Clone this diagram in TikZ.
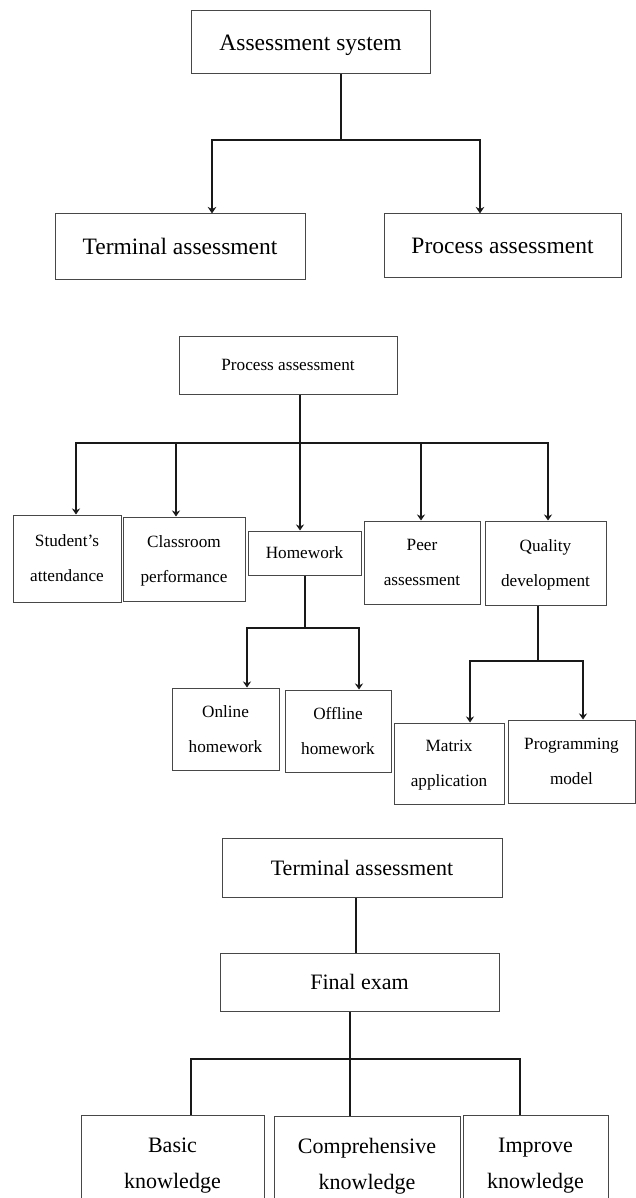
\documentclass[tikz,border=0pt]{standalone}
\usepackage{fontspec}
\setmainfont{Liberation Serif}
\usetikzlibrary{arrows.meta}
\begin{document}
\begin{tikzpicture}[x=1pt,y=-1pt,
  box/.style={draw=black!72, line width=1pt, rectangle, inner sep=0pt, align=center, text depth=0pt},
  fa/.style={font=\fontsize{23.5}{28}\selectfont},
  fb/.style={font=\fontsize{17.2}{35}\selectfont},
  fc/.style={font=\fontsize{22}{36}\selectfont},
  conn/.style={line width=2pt, draw=black!90},
  thickconn/.style={line width=2.5pt, draw=black!90},
  arr/.style={conn, -{Stealth[length=6pt,width=8pt]}},
  thickarr/.style={thickconn, -{Stealth[length=6.5pt,width=8.5pt]}}
]
\useasboundingbox (0,0) rectangle (636,1198);
\clip (0,0) rectangle (636,1198);
\fill[white] (0,0) rectangle (636,1198);

% ---------- Section 1 ----------
\node[box, fa, minimum width=239pt, minimum height=63pt] (as) at (310.5,42.5) {Assessment system};
\node[box, fa, minimum width=250pt, minimum height=65pt] (ta) at (180,246.5) {Terminal assessment};
\node[box, fa, minimum width=237pt, minimum height=63pt] (pa) at (502.5,245.5) {Process assessment};
\coordinate (j1) at (341,140);
\draw[thickconn] (as.south -| j1) -- (j1);
\draw[thickarr] (j1) -| ([xshift=32pt]ta.north);
\draw[thickarr] (j1) -| ([xshift=-22.5pt]pa.north);

% ---------- Section 2 ----------
\node[box, fb, minimum width=218pt, minimum height=58pt] (pa2) at (288,365) {Process assessment};
\node[box, fb, minimum width=108pt, minimum height=87pt] (sa) at (67,558.5) {Student's\\attendance};
\node[box, fb, minimum width=122pt, minimum height=84pt] (cp) at (184,559) {Classroom\\performance};
\node[box, fb, minimum width=113pt, minimum height=44pt] (hw) at (304.5,553) {Homework};
\node[box, fb, minimum width=116pt, minimum height=83pt] (pe) at (422,562.5) {Peer\\assessment};
\node[box, fb, minimum width=121pt, minimum height=84pt] (qd) at (545.5,563) {Quality\\development};
\node[box, fb, minimum width=107pt, minimum height=82pt] (oh) at (225.5,729) {Online\\homework};
\node[box, fb, minimum width=106pt, minimum height=82pt] (fh) at (338,731) {Offline\\homework};
\node[box, fb, minimum width=110pt, minimum height=81pt] (ma) at (449,763.5) {Matrix\\application};
\node[box, fb, minimum width=127pt, minimum height=83pt] (pm) at (571.5,761.5) {Programming\\model};

\coordinate (j2) at (300,443);
\draw[arr] (pa2.south -| j2) -- (hw.north -| j2);
\draw[arr] (j2) -| ([xshift=9pt]sa.north);
\draw[arr] (j2) -| ([xshift=-8pt]cp.north);
\draw[arr] (j2) -| ([xshift=-1pt]pe.north);
\draw[arr] (j2) -| ([xshift=2.5pt]qd.north);

\coordinate (j3) at (305,628);
\draw[conn] (hw.south -| j3) -- (j3);
\draw[arr] (j3) -| ([xshift=21.5pt]oh.north);
\draw[arr] (j3) -| ([xshift=21pt]fh.north);

\coordinate (j4) at (538,661);
\draw[conn] (qd.south -| j4) -- (j4);
\draw[arr] (j4) -| ([xshift=21pt]ma.north);
\draw[arr] (j4) -| ([xshift=11.5pt]pm.north);

% ---------- Section 3 ----------
\node[box, fc, minimum width=280pt, minimum height=59pt] (ta2) at (362,867.5) {Terminal assessment};
\node[box, fc, minimum width=279pt, minimum height=58pt] (fe) at (359.5,982) {Final exam};
\node[box, fc, minimum width=183pt, minimum height=96pt] (bk) at (172.5,1163) {Basic\\knowledge};
\node[box, fc, minimum width=186pt, minimum height=95pt] (ck) at (367,1163.5) {Comprehensive\\knowledge};
\node[box, fc, minimum width=145pt, minimum height=96pt] (ik) at (535.5,1163) {Improve\\knowledge};

\draw[conn] ([xshift=-6pt]ta2.south) -- ([xshift=-3.5pt]fe.north);
\coordinate (j5) at (350,1059);
\draw[conn] (fe.south -| j5) -- (ck.north -| j5);
\draw[conn] (j5) -| ([xshift=18.5pt]bk.north);
\draw[conn] (j5) -| ([xshift=-15.5pt]ik.north);
\end{tikzpicture}
\end{document}
